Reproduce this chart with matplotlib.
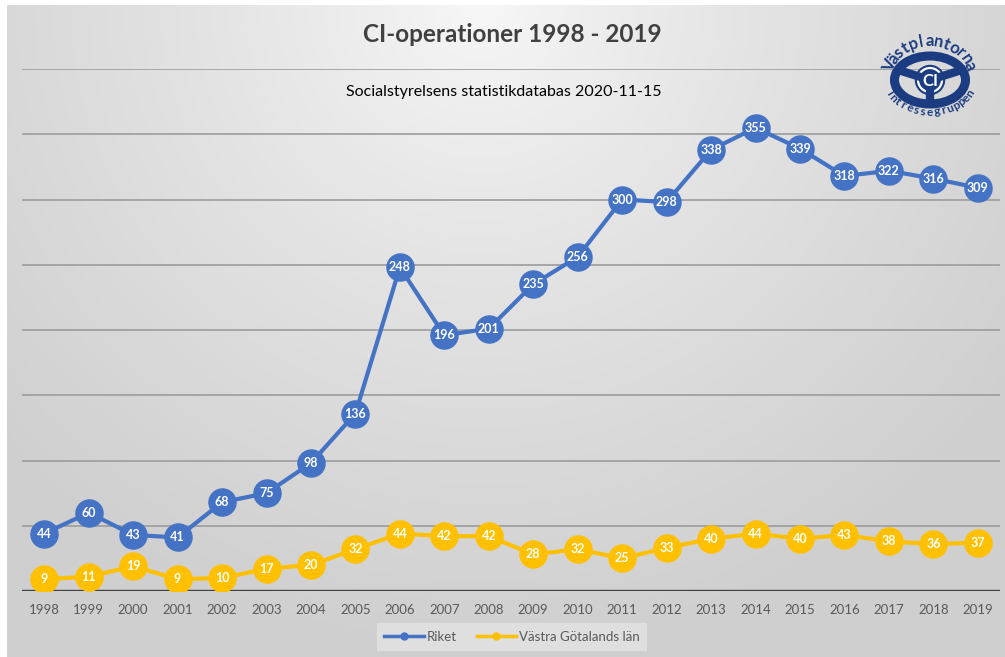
import numpy as np
import matplotlib
matplotlib.use("Agg")
import matplotlib.pyplot as plt
from matplotlib.lines import Line2D
from matplotlib.patches import Ellipse
import math

years = [str(y) for y in range(1998, 2020)]
riket = [44, 60, 43, 41, 68, 75, 98, 136, 248, 196, 201, 235, 256, 300, 298, 338, 355, 339, 318, 322, 316, 309]
vg = [9, 11, 19, 9, 10, 17, 20, 32, 44, 42, 42, 28, 32, 25, 33, 40, 44, 40, 43, 38, 36, 37]
title = "CI-operationer 1998 - 2019"
subtitle = "Socialstyrelsens statistikdatabas 2020-11-15"
series_names = ["Riket", "Västra Götalands län"]

BLUE = "#4472c4"
YELLOW = "#ffc000"
NAVY = "#1b3c80"
FONT = "Lato"

W, H = 1005, 657
fig = plt.figure(figsize=(W / 100, H / 100), dpi=100)
fig.patch.set_facecolor("white")

# background gradient (chart area starts at x=7, y=5)
bg = fig.add_axes([7 / W, 0, 1 - 7 / W, 1 - 5 / H], zorder=-10)
yy, xx = np.mgrid[5:H, 7:W]
d = np.sqrt((xx - 480.0) ** 2 + (yy * 1.0) ** 2)
val = 248 - 38 * (d / 600.0) ** 0.8
val = np.clip(val, 207, 250) / 255.0
img = np.dstack([val, val, val])
bg.imshow(img, aspect="auto", extent=[0, 1, 0, 1], origin="upper")
bg.set_axis_off()

ax = fig.add_axes([22 / W, 66 / H, (1000 - 22) / W, (591 - 69) / H])
ax.patch.set_alpha(0)
x = np.arange(len(years))
ax.set_xlim(-0.5, len(years) - 0.5)
ax.set_ylim(0, 400)
for g in range(50, 401, 50):
    ax.axhline(g, color="#9c9c9c", lw=1.2, zorder=1)
ax.axhline(0, color="#404040", lw=2.4, zorder=2)
for s in ax.spines.values():
    s.set_visible(False)
ax.set_yticks([])
ax.set_xticks(x)
ax.set_xticklabels(years, fontsize=9.5, color="#595959", family=FONT)
ax.tick_params(axis="x", length=0, pad=9)

for data, col in [(riket, BLUE), (vg, YELLOW)]:
    ax.plot(x, data, color=col, lw=3.0, marker="o", markersize=19.5, zorder=3)
    for xi, v in zip(x, data):
        ax.text(xi, v, str(v), ha="center", va="center", color="white",
                fontsize=9, fontweight="bold", family=FONT, zorder=4)

handles = [Line2D([0], [0], color=BLUE, lw=2.5, marker="o", markersize=5),
           Line2D([0], [0], color=YELLOW, lw=2.5, marker="o", markersize=5)]
leg = fig.legend(handles, series_names, loc="center", bbox_to_anchor=(512 / W, 1 - 637 / H),
                 ncol=2, frameon=True, handlelength=3, handletextpad=0.2,
                 columnspacing=1.5, prop={"family": FONT, "size": 9.5})
leg.get_frame().set_facecolor("#e4e4e4")
leg.get_frame().set_edgecolor("none")
leg.get_frame().set_boxstyle("square", pad=0.2)
for t in leg.get_texts():
    t.set_color("#595959")

fig.text(512 / W, 1 - 35 / H, title, ha="center", va="center", fontsize=17.5,
         fontweight="bold", color="#404040", family=FONT)
fig.text(504 / W, 1 - 92 / H, subtitle, ha="center", va="center", fontsize=11.5,
         color="#000000", family=FONT)

# logo (pixel coordinates, y up)
lg = fig.add_axes([0, 0, 1, 1], zorder=5)
lg.set_xlim(0, W)
lg.set_ylim(0, H)
lg.set_axis_off()
lg.patch.set_alpha(0)
cx, cy = 930.0, H - 80.0
a, b = 35.5, 24.0
for ang in [155, 25, 270]:
    r = math.radians(ang)
    lg.plot([cx, cx + a * math.cos(r)], [cy, cy + b * math.sin(r)], color=NAVY, lw=6,
            solid_capstyle="butt")
lg.add_patch(Ellipse((cx, cy), 2 * a, 2 * b, fill=False, edgecolor=NAVY, lw=6.5))
lg.add_patch(Ellipse((cx, cy), 29, 29, facecolor=NAVY, edgecolor=NAVY, lw=1))
lg.add_patch(Ellipse((cx, cy), 24, 24, fill=False, edgecolor="white", lw=1.6))
lg.text(cx, cy - 0.5, "CI", ha="center", va="center", color="white", fontsize=12,
        fontweight="bold", family=FONT)


def arc_text(txt, a2, b2, th0, th1, top, size):
    n = len(txt)
    for i, ch in enumerate(txt):
        th = math.radians(th0 + (th1 - th0) * (i + 0.5) / n)
        px = cx + a2 * math.cos(th)
        py = cy + b2 * math.sin(th)
        if top:
            rot = math.degrees(math.atan2(-b2 * math.cos(th), a2 * math.sin(th)))
        else:
            rot = math.degrees(math.atan2(b2 * math.cos(th), -a2 * math.sin(th)))
        lg.text(px, py, ch, ha="center", va="center", rotation=rot, rotation_mode="anchor",
                color=NAVY, fontsize=size, fontweight="bold", family=FONT)


arc_text("Västplantorna", 43, 39, 165, 15, True, 12)
arc_text("Intressegruppen", 44, 32, 200, 340, False, 8.5)

fig.savefig("out.png", dpi=100)
